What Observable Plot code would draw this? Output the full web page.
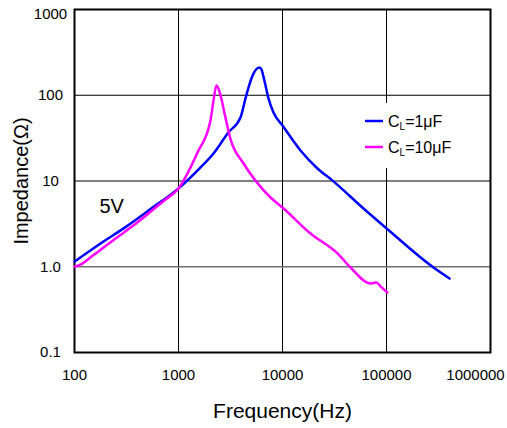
<!DOCTYPE html>
<html><head><meta charset="utf-8">
<script src="https://cdn.jsdelivr.net/npm/d3@7"></script>
<script src="https://cdn.jsdelivr.net/npm/@observablehq/plot@0.6"></script>
<style>
  body { margin: 0; background: #fff; }
  #chart svg { font-family: "Liberation Sans", Arial, sans-serif; }
</style>
</head><body><div id="chart"></div>
<script>
// ---- data ----
const freq1 = [100, 178, 309, 538, 1000, 1630, 2170, 3025, 3945, 4410, 4710, 5260, 6010, 6280, 6700, 7330, 8190, 10000, 14900, 21700, 30300, 60100, 97800, 283000, 404000];
const z1    = [1.15, 1.87, 2.9, 4.7, 8.18, 14.4, 20.9, 37, 55, 92, 123, 179, 211, 200, 148, 92, 63, 44.4, 22.7, 14.0, 10.1, 4.78, 2.87, 0.98, 0.73];

const freq10 = [100, 114, 150, 250, 404, 718, 1000, 1523, 2030, 2170, 2320, 2535, 2800, 3160, 4220, 5500, 7670, 10000, 18600, 33800, 45100, 70100, 80100, 87600, 102000];
const z10    = [1.0, 1.06, 1.35, 2.15, 3.3, 5.85, 8.2, 21.5, 50.8, 86.9, 130, 100, 58, 31, 16, 10.1, 6.42, 4.91, 2.44, 1.43, 0.98, 0.638, 0.655, 0.589, 0.501];

const seriesValues = ["1μF", "10μF"];
const seriesColors = ["#0000ff", "#ff00ff"];

const xTicks = [100, 1000, 10000, 100000, 1000000];
const xTickLabels = ["100", "1000", "10000", "100000", "1000000"];
const yTicks = [0.1, 1, 10, 100, 1000];
const yTickLabels = ["0.1", "1.0", "10", "100", "1000"];

const xTitle = "Frequency(Hz)";
const yTitle = "Impedance(Ω)";
const annotation = ["5V"];

// ---- table built from arrays ----
const rows = [
  ...freq1.map((f, i) => ({f, z: z1[i], s: seriesValues[0]})),
  ...freq10.map((f, i) => ({f, z: z10[i], s: seriesValues[1]}))
];
const xLab = d => xTickLabels[xTicks.indexOf(d)];
const yLab = d => yTickLabels[yTicks.indexOf(d)];

function legendMark(index, scales, values, dimensions) {
  const {width, marginRight, marginTop} = dimensions;
  const right = width - marginRight;
  const g = d3.create("svg:g");
  g.append("rect")
    .attr("x", right - 135).attr("y", marginTop + 94)
    .attr("width", 127).attr("height", 65)
    .attr("fill", "white");
  seriesValues.forEach((v, i) => {
    const y = marginTop + 112 + i * 26;
    g.append("line")
      .attr("x1", right - 125).attr("x2", right - 107)
      .attr("y1", y).attr("y2", y)
      .attr("stroke", seriesColors[i]).attr("stroke-width", 2.5);
    const t = g.append("text")
      .attr("x", right - 102).attr("y", y + 6)
      .attr("text-anchor", "start")
      .attr("font-size", 16).attr("fill", "black");
    t.append("tspan").text("C");
    t.append("tspan").attr("font-size", 10).attr("dy", 3).text("L");
    t.append("tspan").attr("dy", -3).text("=" + v);
  });
  return g.node();
}

const chart = Plot.plot({
  width: 507,
  height: 428,
  marginLeft: 74,
  marginRight: 17,
  marginTop: 9,
  marginBottom: 76,
  style: {fontFamily: "Liberation Sans, Arial, sans-serif", fontSize: "15px", background: "white"},
  x: {type: "log", domain: [100, 1000000], axis: null},
  y: {type: "log", domain: [0.1, 1000], axis: null},
  marks: [
    Plot.ruleX(xTicks.slice(1, -1), {x: d => d, stroke: "black", strokeWidth: 1}),
    Plot.ruleY(yTicks.filter(d => d !== 1 && d !== 0.1 && d !== 1000), {y: d => d, stroke: "black", strokeWidth: 1}),
    Plot.ruleY(yTicks.filter(d => d === 1), {y: d => d, stroke: "#707070", strokeWidth: 1.5}),
    legendMark,
    Plot.frame({stroke: "black", strokeWidth: 2}),
    Plot.line(rows, {x: "f", y: "z", z: "s", stroke: d => seriesColors[seriesValues.indexOf(d.s)],
      strokeWidth: 2.5, curve: "monotone-x"}),
    // x tick labels
    Plot.text(xTicks.slice(0, -1), {x: d => d, text: xLab, frameAnchor: "bottom", dy: 23, textAnchor: "middle", lineAnchor: "middle", fontSize: 15}),
    Plot.text(xTicks.slice(-1), {x: d => d, text: xLab, frameAnchor: "bottom", dy: 23, dx: -15, textAnchor: "middle", lineAnchor: "middle", fontSize: 15}),
    // y tick labels
    Plot.text(yTicks.slice(0, -1), {y: d => d, text: yLab, frameAnchor: "left", dx: -24, textAnchor: "middle", lineAnchor: "middle", fontSize: 15}),
    Plot.text(yTicks.slice(-1), {y: d => d, text: yLab, frameAnchor: "left", dx: -24, dy: 5, textAnchor: "middle", lineAnchor: "middle", fontSize: 15}),
    Plot.text(annotation, {text: d => d, frameAnchor: "top-left", dx: 25, dy: 189, fontSize: 20, textAnchor: "start", lineAnchor: "top"}),
    Plot.text([xTitle], {text: d => d, frameAnchor: "bottom", dy: 59, fontSize: 21, textAnchor: "middle", lineAnchor: "middle"}),
    Plot.text([yTitle], {text: d => d, frameAnchor: "left", rotate: -90, dx: -53, fontSize: 20, textAnchor: "middle", lineAnchor: "middle"})
  ]
});
document.getElementById("chart").appendChild(chart);
</script>
</body></html>
